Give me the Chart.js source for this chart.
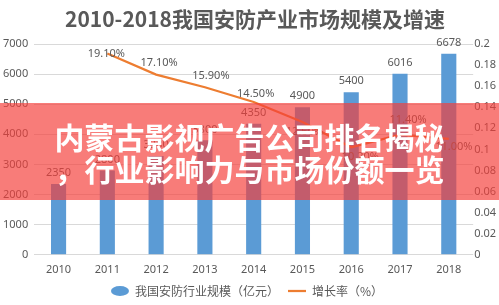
<!DOCTYPE html>
<html>
<head>
<meta charset="utf-8">
<script src="https://cdn.jsdelivr.net/npm/chart.js@4.4.1/dist/chart.umd.min.js"></script>
<style>
  html, body { margin: 0; padding: 0; background: #ffffff; }
  #wrap { position: relative; width: 499px; height: 305px; overflow: hidden; }
  #title {
    position: absolute; left: 15px; top: 3px; width: 480px; height: 30px; line-height: 30px;
    text-align: center; color: #595959; font-family: "Noto Sans CJK SC", sans-serif;
    font-weight: 700; font-size: 21px; white-space: nowrap;
  }
  #banner {
    position: absolute; left: 0; top: 103px; width: 499px; height: 97px;
    background: rgba(245, 62, 58, 0.68);
    display: flex; flex-direction: column; align-items: center; justify-content: center;
    color: #ffffff; font-family: "Noto Sans CJK SC", sans-serif; font-weight: 700;
    font-size: 30px; line-height: 32px; text-align: center;
  }
</style>
</head>
<body>
<div id="wrap">
  <canvas id="c" width="499" height="305"></canvas>
  <div id="title"></div>
  <div id="banner"><div>内蒙古影视广告公司排名揭秘</div><div>，行业影响力与市场份额一览</div></div>
</div>
<script>
const categories = ['2010', '2011', '2012', '2013', '2014', '2015', '2016', '2017', '2018'];
const marketSize = [2350, 2800, 3280, 3800, 4350, 4900, 5400, 6016, 6678];
const growthRate = [null, 0.191, 0.171, 0.159, 0.145, 0.126, 0.102, 0.114, 0.110];
const titleText = '2010-2018我国安防产业市场规模及增速';
const sizeLabel = '我国安防行业规模（亿元）';
const rateLabel = '增长率（%）';

document.getElementById('title').textContent = titleText;

const FONT = '"Noto Sans", "Noto Sans CJK SC", sans-serif';
const GREY = '#595959';

const valueLabels = {
  id: 'valueLabels',
  afterDatasetsDraw(chart, args, opts) {
    const ctx = chart.ctx;
    ctx.save();
    ctx.font = '11px ' + FONT;
    ctx.fillStyle = GREY;
    ctx.textAlign = 'center';
    ctx.textBaseline = 'middle';
    chart.data.datasets.forEach((ds, i) => {
      const meta = chart.getDatasetMeta(i);
      const offs = opts.offsets[i] || [];
      meta.data.forEach((el, j) => {
        const v = ds.data[j];
        if (v == null) return;
        const off = offs[j] || [0, -11];
        const text = ds.type === 'line' ? (v * 100).toFixed(2) + '%' : String(v);
        ctx.fillText(text, el.x + off[0], el.y + off[1]);
      });
    });
    ctx.restore();
  }
};

new Chart(document.getElementById('c'), {
  data: {
    labels: categories,
    datasets: [
      {
        type: 'bar', label: sizeLabel, data: marketSize, yAxisID: 'y',
        backgroundColor: '#5B9BD5', barPercentage: 0.62, categoryPercentage: 0.5,
        order: 1
      },
      {
        type: 'line', label: rateLabel, data: growthRate, yAxisID: 'y1',
        borderColor: '#ED7D31', backgroundColor: '#ED7D31', borderWidth: 2.25,
        pointRadius: 0, pointStyle: 'line', tension: 0, spanGaps: false,
        order: 0
      }
    ]
  },
  options: {
    responsive: false,
    animation: false,
    devicePixelRatio: 1,
    layout: { padding: { left: -3, right: 2, top: 44, bottom: -2 } },
    plugins: {
      title: { display: false },
      legend: {
        display: true, position: 'bottom',
        labels: {
          color: GREY, font: { family: '"Noto Sans CJK SC", sans-serif', size: 12 },
          usePointStyle: true, pointStyleWidth: 18, boxHeight: 7, padding: 9,
          sort: (a, b) => a.datasetIndex - b.datasetIndex
        }
      },
      tooltip: { enabled: false },
      valueLabels: {
        offsets: {
          1: { 1: [-1, 0], 2: [3, -12], 3: [6, -11], 4: [2, -8], 5: [2, 10], 6: [9, 10], 7: [8, -15], 8: [5, 8] }
        }
      }
    },
    scales: {
      x: {
        offset: true,
        grid: { display: false },
        border: { display: false },
        ticks: { color: GREY, font: { family: FONT, size: 11 }, padding: 0 }
      },
      y: {
        position: 'left', min: 0, max: 7000,
        ticks: { stepSize: 1000, color: GREY, font: { family: FONT, size: 11 }, padding: 6,
          callback: v => String(v) },
        grid: { color: '#D9D9D9', drawTicks: false },
        border: { display: false }
      },
      y1: {
        position: 'right', min: 0, max: 0.2,
        ticks: {
          stepSize: 0.02, color: GREY, font: { family: FONT, size: 11 }, padding: 1,
          callback: v => String(+v.toFixed(2))
        },
        grid: { display: false, drawTicks: false },
        border: { display: false }
      }
    }
  },
  plugins: [valueLabels]
});
</script>
</body>
</html>
